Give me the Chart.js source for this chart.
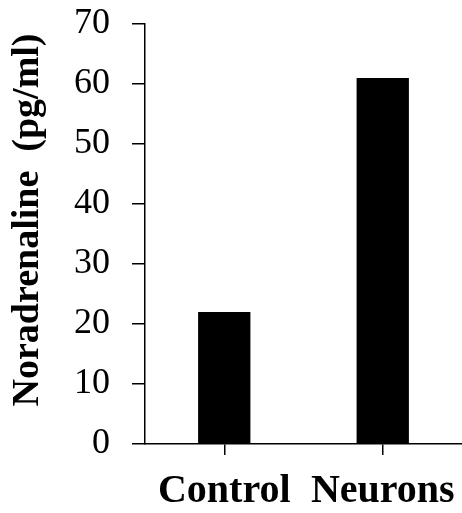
<!DOCTYPE html>
<html>
<head>
<meta charset="utf-8">
<script src="https://cdn.jsdelivr.net/npm/chart.js@4"></script>
<style>
  body { margin: 0; background: #fff; }
  #wrap { width: 462px; height: 513px; }
</style>
</head>
<body>
<div id="wrap"><canvas id="myChart"></canvas></div>
<script>
const categories = ['Control', 'Neurons'];
const noradrenaline = [22, 61];
const yTicks = [0, 10, 20, 30, 40, 50, 60, 70];

// drop the label overhang padding so the axes sit where the figure has them
function noPad(scale) {
    scale.paddingTop = 0;
    scale.paddingBottom = 0;
    scale.paddingLeft = 0;
    scale.paddingRight = 0;
}

const ctx = document.getElementById('myChart').getContext('2d');
const myChart = new Chart(ctx, {
    type: 'bar',
    data: {
        labels: categories,
        datasets: [{
            label: 'Noradrenaline',
            data: noradrenaline,
            backgroundColor: '#000',
            borderWidth: 0,
            barPercentage: 0.33,
            categoryPercentage: 1
        }]
    },
    options: {
        responsive: true,
        maintainAspectRatio: false,
        animation: false,
        layout: { padding: { top: 24, right: 0, left: 0, bottom: 0 } },
        plugins: {
            legend: { display: false },
            tooltip: { enabled: false }
        },
        scales: {
            x: {
                offset: true,
                grid: { display: true, offset: false, drawOnChartArea: false, drawTicks: true, tickLength: 11, color: '#000', lineWidth: 1.5 },
                border: { color: '#000', width: 1.5 },
                ticks: {
                    color: '#000',
                    padding: 13,
                    font: { family: 'Liberation Serif', size: 40, weight: 'bold' }
                },
                afterFit: (scale) => { scale.height = 69; noPad(scale); }
            },
            y: {
                min: 0,
                max: 70,
                afterBuildTicks: (scale) => { scale.ticks = yTicks.map(v => ({ value: v })); },
                grid: { display: true, drawOnChartArea: false, drawTicks: true, tickLength: 13, color: '#000', lineWidth: 1.5 },
                border: { color: '#000', width: 1.5 },
                ticks: {
                    color: '#000',
                    padding: 22,
                    font: { family: 'Liberation Serif', size: 36 }
                },
                title: {
                    display: true,
                    text: 'Noradrenaline  (pg/ml) ',
                    align: 'end',
                    color: '#000',
                    padding: { top: 5, bottom: 0 },
                    font: { family: 'Liberation Serif', size: 38, weight: 'bold' }
                },
                afterFit: (scale) => { scale.width = 145; noPad(scale); }
            }
        }
    }
});
</script>
</body>
</html>
